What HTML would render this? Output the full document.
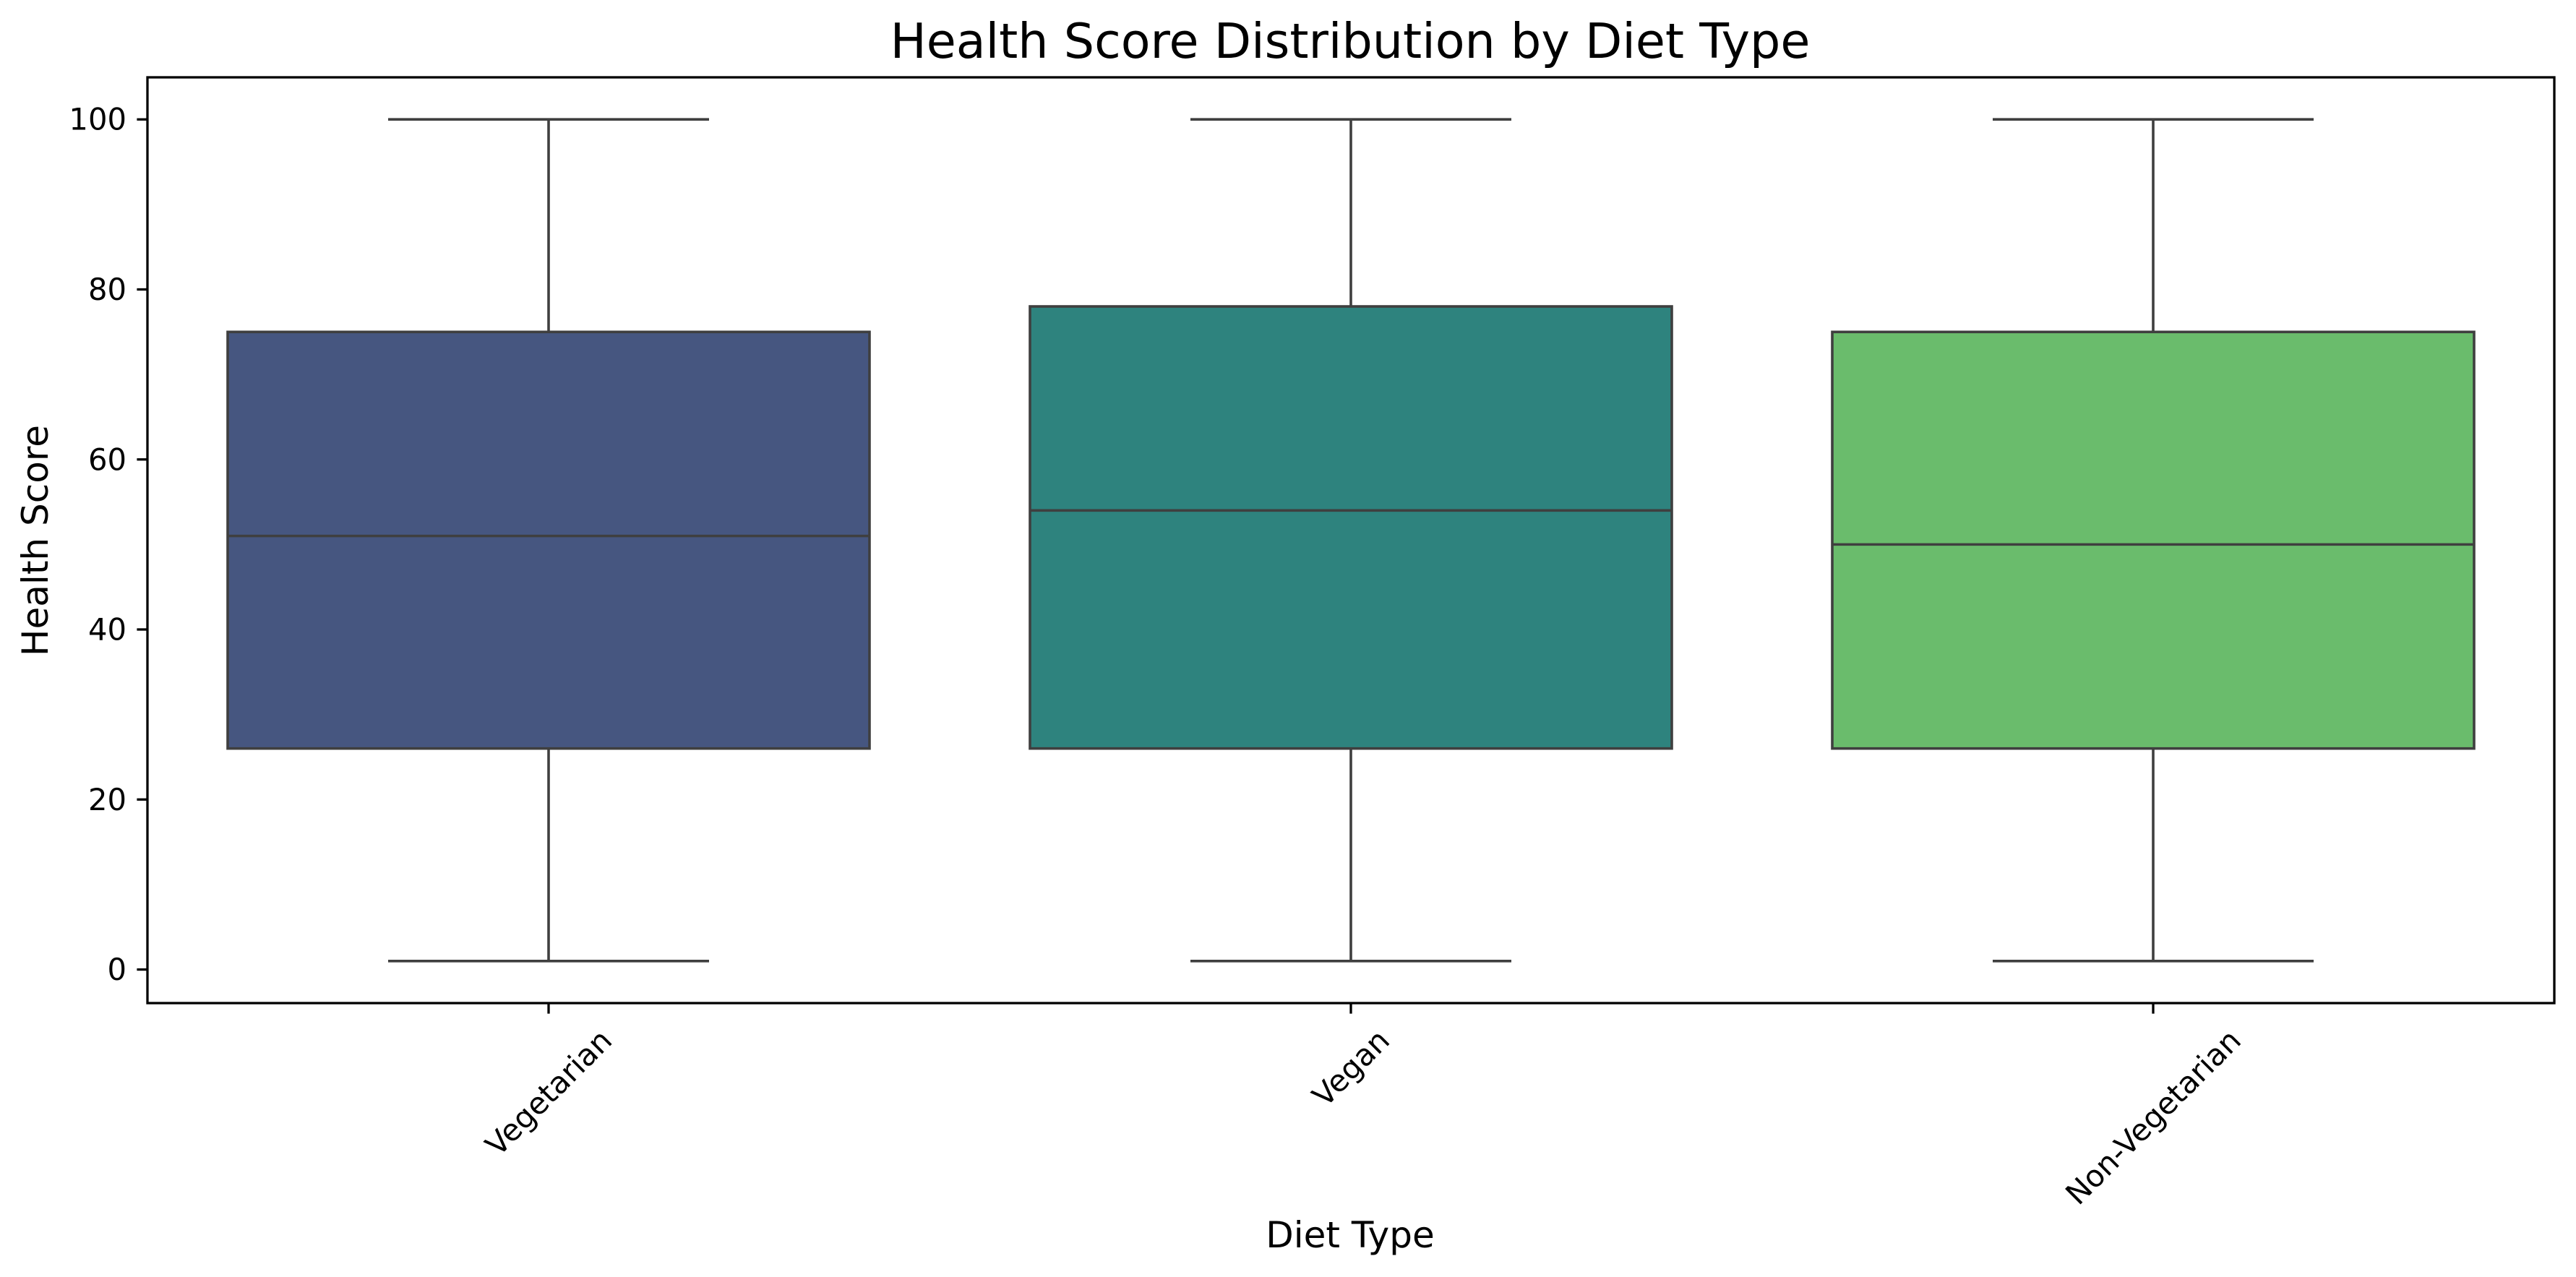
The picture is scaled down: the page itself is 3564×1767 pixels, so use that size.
<!DOCTYPE html>
<html><head><meta charset="utf-8"><style>
html,body{margin:0;padding:0;background:#fff;}
svg{display:block;font-family:"DejaVu Sans","Liberation Sans",sans-serif;}
</style></head><body>
<svg id="chart" width="3564" height="1767" viewBox="0 0 3564 1767" xmlns="http://www.w3.org/2000/svg">
<rect x="0" y="0" width="3564" height="1767" fill="#fff"/>
<text x="1868" y="80" font-size="66.7" text-anchor="middle" fill="#000">Health Score Distribution by Diet Type</text>
<g id="plot"></g>
<text x="1868" y="1726" font-size="50" text-anchor="middle" fill="#000">Diet Type</text>
<text x="0" y="0" font-size="50" text-anchor="middle" fill="#000" transform="translate(66,748) rotate(-90)">Health Score</text>
</svg>
<script>
const categories = ["Vegetarian", "Vegan", "Non-Vegetarian"];
const whiskerLow = [1, 1, 1];
const q1Values = [26, 26, 26];
const medianValues = [51, 54, 50];
const q3Values = [75, 78, 75];
const whiskerHigh = [100, 100, 100];
const boxColors = ["#465680", "#2e837e", "#6abc6c"];
const yTicks = [0, 20, 40, 60, 80, 100];

const NS = "http://www.w3.org/2000/svg";
const L = 204, R = 3534, T = 107, B = 1388;
const yMin = -3.95, yMax = 104.95;
const xMin = -0.5, xMax = categories.length - 0.5;
function xs(i){ return L + (i - xMin) / (xMax - xMin) * (R - L); }
function ys(v){ return B - (v - yMin) / (yMax - yMin) * (B - T); }
const plot = document.getElementById('plot');
const svg = document.getElementById('chart');
function mk(tag, attrs, parent){
  const e = document.createElementNS(NS, tag);
  for (const k in attrs) e.setAttribute(k, attrs[k]);
  (parent || plot).appendChild(e);
  return e;
}
const step = xs(1) - xs(0);
const boxW = step * 0.8, capW = step * 0.4;
const lc = "#3f3f3f", lw = 3.6;
categories.forEach((c, i) => {
  const cx = xs(i);
  const g = mk('g', {});
  
  
  const w1 = mk('line', {x1: cx, x2: cx, y1: ys(q1Values[i]), y2: ys(whiskerLow[i]), stroke: lc, 'stroke-width': lw}, g);
  
  
  const w2 = mk('line', {x1: cx, x2: cx, y1: ys(q3Values[i]), y2: ys(whiskerHigh[i]), stroke: lc, 'stroke-width': lw}, g);
  
  
  const c1 = mk('line', {x1: cx - capW/2, x2: cx + capW/2, y1: ys(whiskerLow[i]), y2: ys(whiskerLow[i]), stroke: lc, 'stroke-width': lw}, g);
  
  
  const c2 = mk('line', {x1: cx - capW/2, x2: cx + capW/2, y1: ys(whiskerHigh[i]), y2: ys(whiskerHigh[i]), stroke: lc, 'stroke-width': lw}, g);
  
  
  const box = mk('rect', {x: cx - boxW/2, y: ys(q3Values[i]), width: boxW, height: ys(q1Values[i]) - ys(q3Values[i]), fill: boxColors[i], stroke: lc, 'stroke-width': lw}, g);
  
  
  const md = mk('line', {x1: cx - boxW/2, x2: cx + boxW/2, y1: ys(medianValues[i]), y2: ys(medianValues[i]), stroke: lc, 'stroke-width': lw}, g);
  
  
  // x tick
  const tk = mk('line', {x1: cx, x2: cx, y1: B, y2: B + 14.6, stroke: '#000', 'stroke-width': 3.3});
  
  
  const t = mk('text', {'font-size': 41.7, 'text-anchor': 'middle', fill: '#000', x: 0, y: 0, 'dominant-baseline': 'central'});
  t.textContent = c;
  
  
  const tw = t.getComputedTextLength();
  const h = 41.7 * 1.0;
  const cy = B + 14.6 + 14.6 + (tw + h) * 0.7071 / 2;
  t.setAttribute('transform', 'translate(' + cx + ',' + cy + ') rotate(-45)');
});
yTicks.forEach(v => {
  const y = ys(v);
  const tk = mk('line', {x1: L - 14.6, x2: L, y1: y, y2: y, stroke: '#000', 'stroke-width': 3.3});
  
  
  const t = mk('text', {x: L - 29, y: y, 'font-size': 41.7, 'text-anchor': 'end', 'dominant-baseline': 'central', fill: '#000'});
  t.textContent = v;
  
  
});
const frame = mk('rect', {x: L, y: T, width: R - L, height: B - T, fill: 'none', stroke: '#000', 'stroke-width': 3.3});


</script>
</body></html>
